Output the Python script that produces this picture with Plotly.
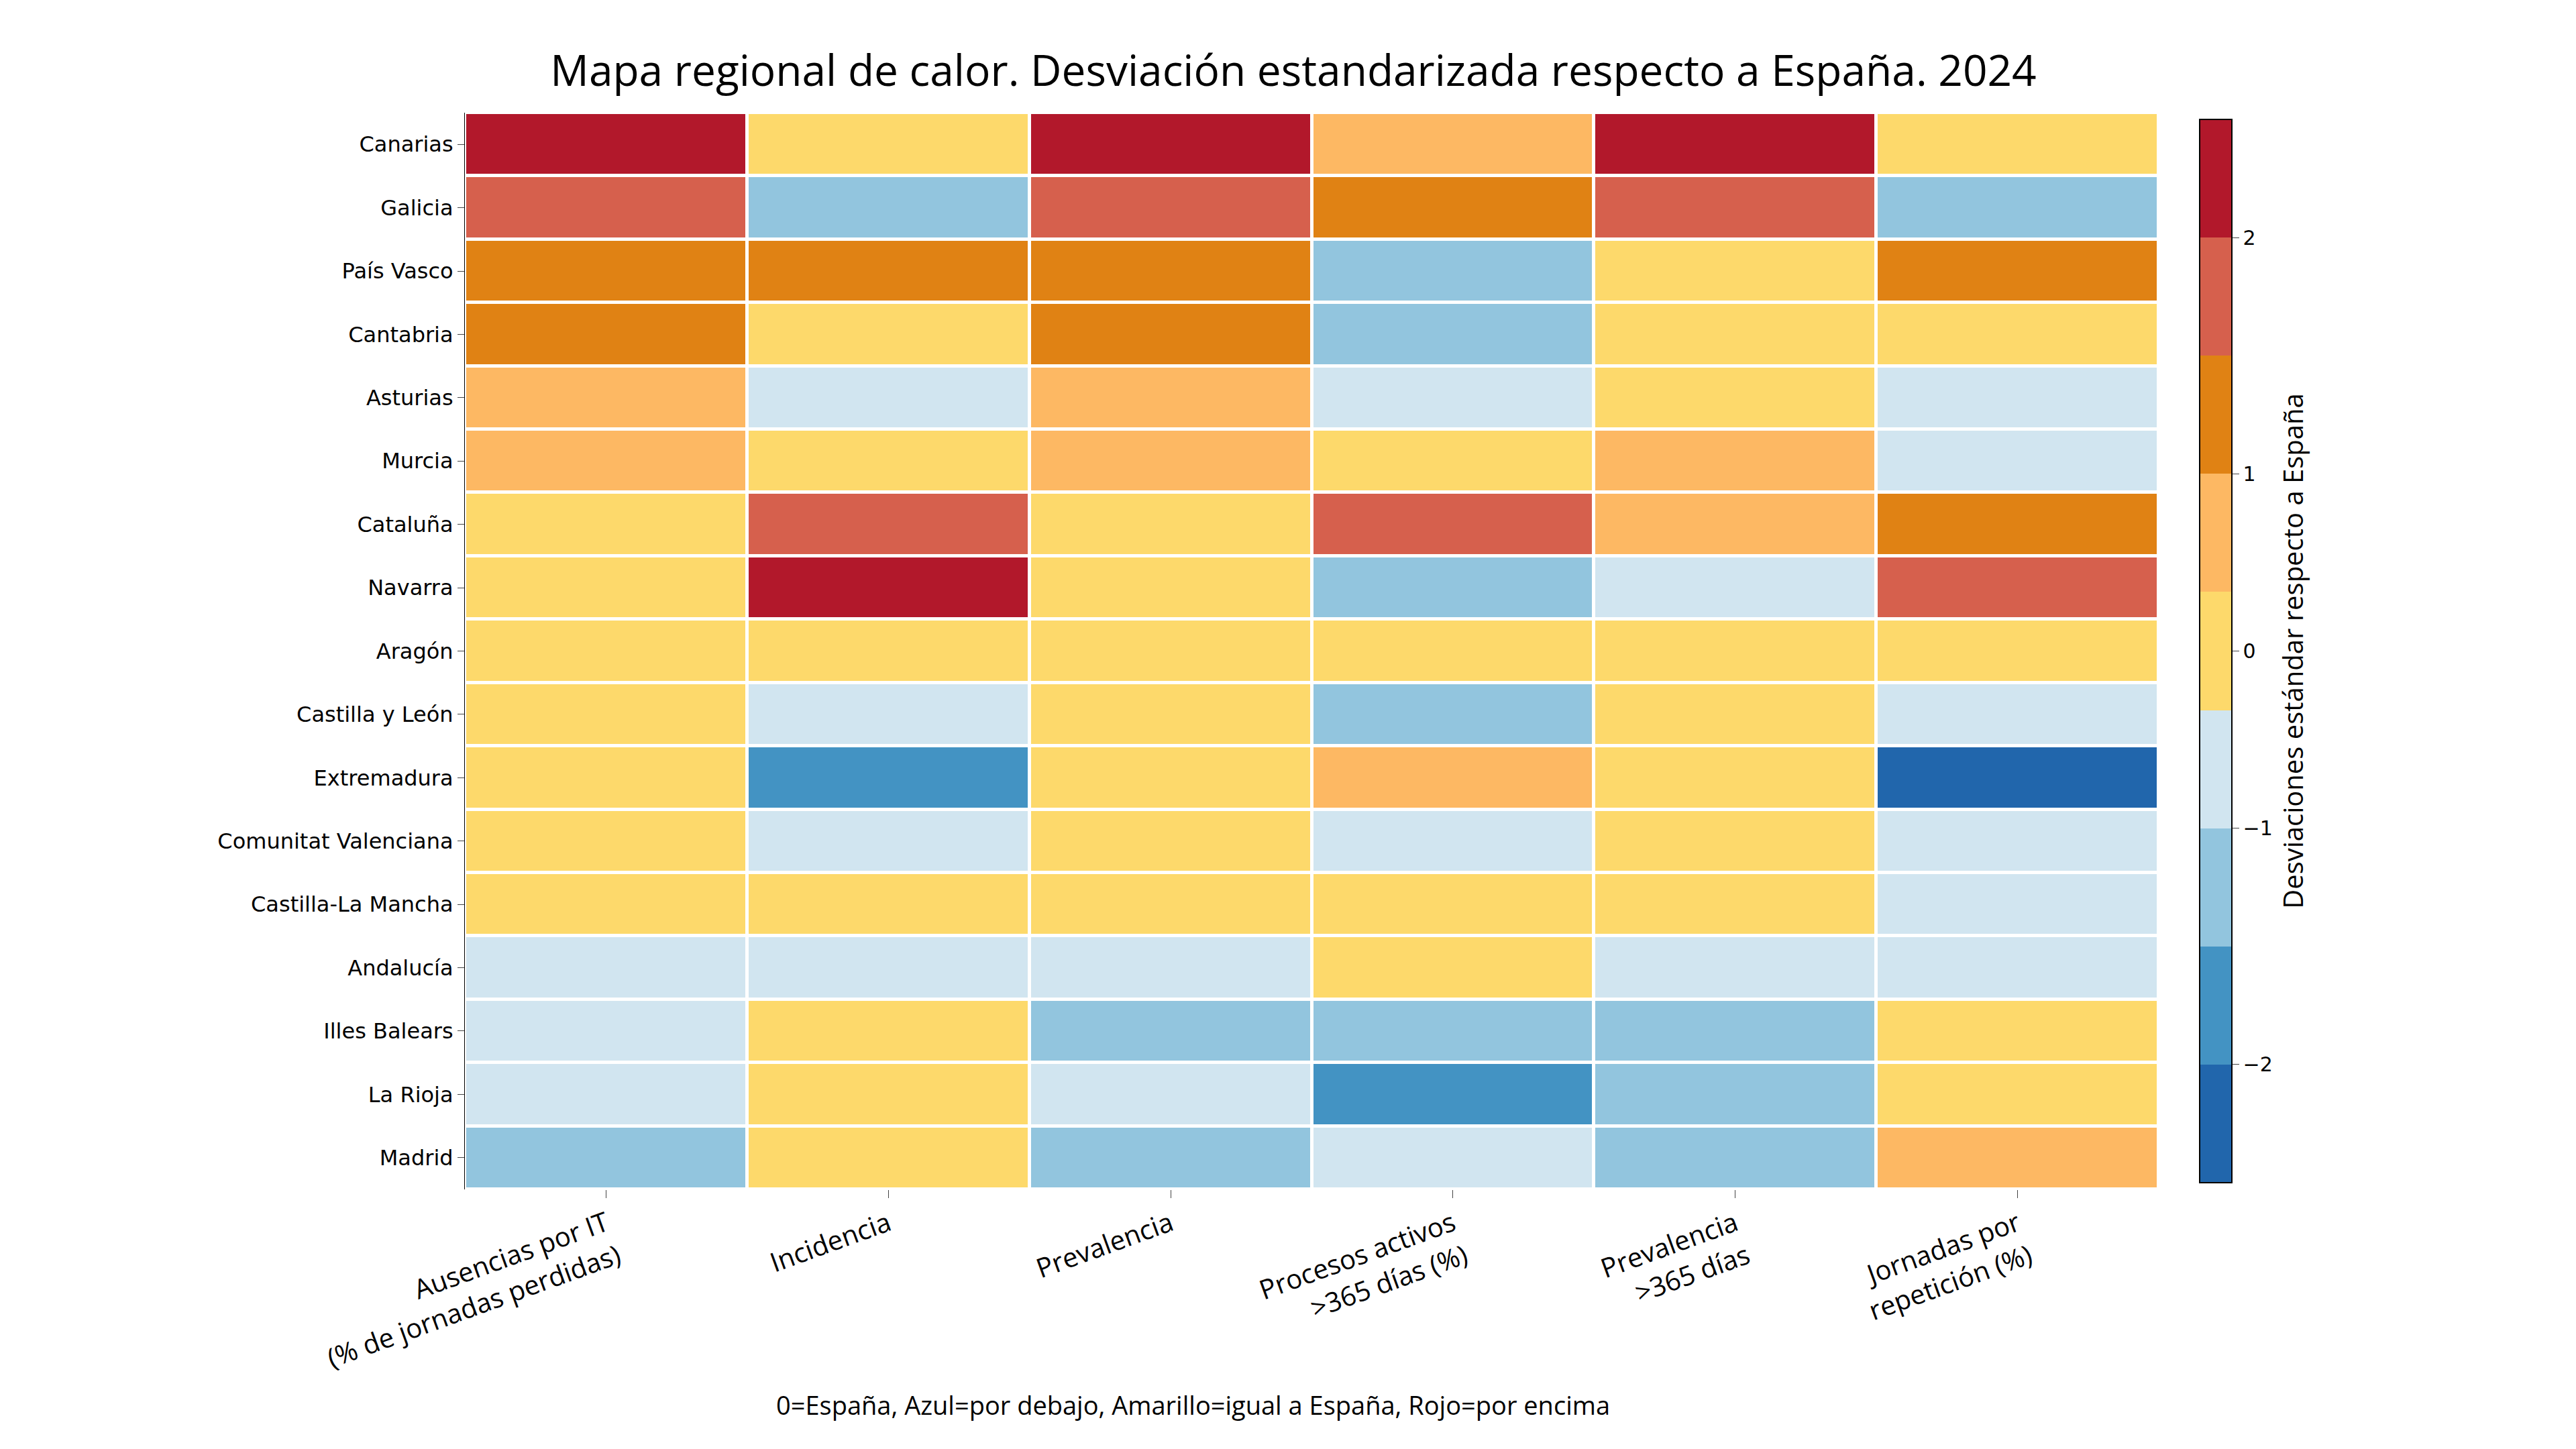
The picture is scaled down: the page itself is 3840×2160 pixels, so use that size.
import numpy as np
import plotly.graph_objects as go

# Data: standardized deviations vs Spain, 2024
regions = ["Canarias", "Galicia", "País Vasco", "Cantabria", "Asturias", "Murcia",
           "Cataluña", "Navarra", "Aragón", "Castilla y León", "Extremadura",
           "Comunitat Valenciana", "Castilla-La Mancha", "Andalucía", "Illes Balears",
           "La Rioja", "Madrid"]
indicators = ["Ausencias por IT<br>(% de jornadas perdidas)", "Incidencia", "Prevalencia",
              "Procesos activos<br>>365 días (%)", "Prevalencia<br>>365 días",
              "Jornadas por<br>repetición (%)"]

ausencias = [2.3, 1.8, 1.3, 1.2, 0.8, 0.7, 0.3, 0.2, 0.1, 0.0, -0.1, -0.2, -0.3, -0.6, -0.7, -0.8, -1.2]
incidencia = [0.1, -1.2, 1.2, 0.2, -0.7, 0.3, 1.8, 2.4, 0.0, -0.6, -1.7, -0.7, 0.1, -0.6, 0.2, 0.3, 0.1]
prevalencia = [2.2, 1.7, 1.3, 1.2, 0.8, 0.7, 0.3, 0.2, 0.1, 0.0, -0.1, -0.2, -0.3, -0.6, -1.1, -0.7, -1.2]
procesos = [0.7, 1.3, -1.1, -1.2, -0.6, 0.2, 1.7, -1.2, 0.1, -1.1, 0.8, -0.6, 0.0, 0.3, -1.2, -1.8, -0.7]
prev365 = [2.2, 1.8, 0.3, 0.2, 0.1, 0.8, 0.7, -0.6, 0.0, 0.2, 0.1, -0.1, 0.0, -0.7, -1.1, -1.2, -1.2]
repeticion = [0.2, -1.2, 1.2, 0.3, -0.6, -0.7, 1.3, 1.7, 0.1, -0.7, -2.3, -0.6, -0.7, -0.6, 0.2, 0.1, 0.8]

bounds = [-2.5, -2, -1.5, -1, -0.5, 0.5, 1, 1.5, 2, 2.5]
colors = ["#2166ac", "#4393c3", "#92c5de", "#d1e5f0", "#fdd96b",
          "#fdb863", "#e08214", "#d6604d", "#b2182b"]

z = np.array([ausencias, incidencia, prevalencia, procesos, prev365, repeticion]).T
zbin = np.digitize(z, bounds[1:-1])

n = len(colors)
scale = []
for i, c in enumerate(colors):
    scale.append([i / n, c])
    scale.append([(i + 1) / n, c])

fig = go.Figure(go.Heatmap(
    z=zbin, x=indicators, y=regions, customdata=z,
    hovertemplate="%{y}<br>%{x}<br>%{customdata:.2f}<extra></extra>",
    colorscale=scale, zmin=-0.5, zmax=n - 0.5, xgap=5, ygap=5,
    colorbar=dict(
        tickvals=[0.5, 2.5, 4, 5.5, 7.5], ticktext=["−2", "−1", "0", "1", "2"],
        ticks="outside", ticklen=10, tickfont=dict(size=30, family="DejaVu Sans", color="black"),
        thickness=48, len=1, lenmode="fraction", y=0.5, x=1.02, xanchor="left",
        outlinewidth=2, outlinecolor="black",
        title=dict(text="Desviaciones estándar respecto a España", side="right",
                   font=dict(size=40, family="Open Sans", color="black")),
    ),
))

fig.update_yaxes(autorange="reversed", tickfont=dict(size=32, family="DejaVu Sans", color="black"),
                 ticks="outside", ticklen=10, showline=True, linecolor="black")
fig.update_xaxes(tickangle=-20, tickfont=dict(size=40, family="Open Sans", color="black"),
                 ticks="outside", ticklen=12)

fig.update_layout(
    width=3840, height=2160, plot_bgcolor="white", paper_bgcolor="white",
    margin=dict(l=685, r=630, t=160, b=395),
    title=dict(text="Mapa regional de calor. Desviación estandarizada respecto a España. 2024",
               x=0.5, y=0.965, xanchor="center", font=dict(size=64, family="Open Sans", color="black")),
    annotations=[dict(text="0=España, Azul=por debajo, Amarillo=igual a España, Rojo=por encima",
                      xref="paper", yref="paper", x=0.43, y=-0.2, yanchor="middle", showarrow=False,
                      font=dict(size=38, family="Open Sans", color="black"))],
)

fig.write_html("out.html")
